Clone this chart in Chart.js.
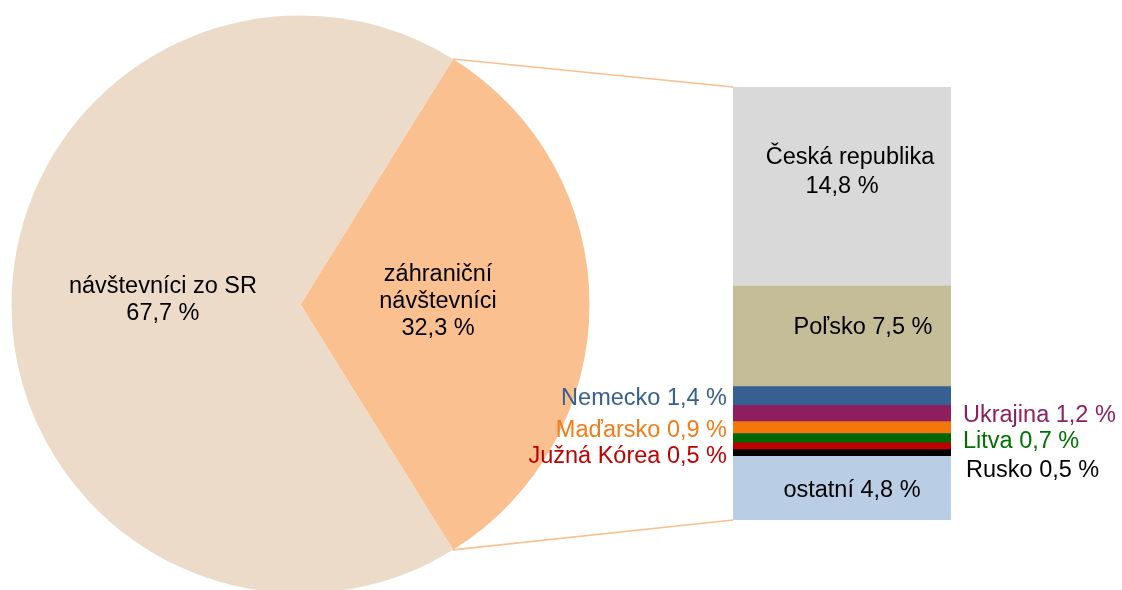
<!DOCTYPE html>
<html>
<head>
<meta charset="utf-8">
<script src="https://cdn.jsdelivr.net/npm/chart.js@4.4.0/dist/chart.umd.min.js"></script>
<style>
    html, body { margin: 0; padding: 0; background: #fff; overflow: hidden; }
    #wrap { position: relative; width: 1122px; height: 590px; overflow: hidden; }
    #pieCanvas, #barCanvas { position: absolute; left: 0; top: 0; }
</style>
</head>
<body>
<div id="wrap">
    <canvas id="pieCanvas" width="600" height="620"></canvas>
    <canvas id="barCanvas" width="1122" height="590"></canvas>
</div>
<script>
// ==========================================
// Data
// ==========================================

const pieCategories = ['záhraniční návštevníci', 'návštevníci zo SR'];
const pieValues = [32.3, 67.7];
const pieColors = ['#FAC090', '#ECDBC9'];

const countries = ['Česká republika', 'Poľsko', 'Nemecko', 'Ukrajina', 'Maďarsko',
    'Litva', 'Južná Kórea', 'Rusko', 'ostatní'];
const countryValues = [14.8, 7.5, 1.4, 1.2, 0.9, 0.7, 0.5, 0.5, 4.8];
const countryColors = ['#D9D9D9', '#C4BD97', '#376092', '#8E1F5F', '#F5760A',
    '#006600', '#C00000', '#000000', '#B9CDE5'];
const countryTextColors = ['#000000', '#000000', '#376092', '#8E1F5F', '#F47B16',
    '#007000', '#C00000', '#000000', '#000000'];

// ==========================================
// Helpers
// ==========================================

const FONT = '23.5px "Liberation Sans", Arial, sans-serif';
const LINE_COLOR = '#FAC090';

const fmt = v => v.toFixed(1).replace('.', ',') + ' %';

// where each bar label sits relative to its segment
const barLabelPlacement = {
    'Česká republika': { align: 'center', dx: [8, 0], dy: -22.5, twoLines: true, lh: 29 },
    'Poľsko':          { align: 'center', dx: 21, dy: -2 },
    'Nemecko':         { align: 'right', dy: 9.5 },
    'Ukrajina':        { align: 'left', dy: 9.5 },
    'Maďarsko':        { align: 'right', dy: 10.5 },
    'Litva':           { align: 'left', dy: 10 },
    'Južná Kórea':     { align: 'right', dy: 17.5 },
    'Rusko':           { align: 'left', dx: 3, dy: 25 },
    'ostatní':         { align: 'center', dx: 10, dy: 9 }
};

// ==========================================
// Pie (left)
// ==========================================

const pieLabelPlugin = {
    id: 'pieLabels',
    afterDatasetsDraw(chart) {
        const ctx = chart.ctx;
        const meta = chart.getDatasetMeta(0);
        ctx.save();
        ctx.font = FONT;
        ctx.fillStyle = '#000';
        ctx.textAlign = 'center';
        ctx.textBaseline = 'alphabetic';
        meta.data.forEach((arc, i) => {
            const mid = (arc.startAngle + arc.endAngle) / 2;
            const r = arc.outerRadius * 0.476;
            const cx = arc.x + Math.cos(mid) * r;
            const cy = arc.y + Math.sin(mid) * r;
            const lines = i === 0
                ? ['záhraniční', 'návštevníci', fmt(pieValues[i])]
                : [pieCategories[i], fmt(pieValues[i])];
            const lh = 27;
            let y = cy - (lines.length - 1) * lh / 2 + (i === 0 ? 4 : 2);
            lines.forEach(t => { ctx.fillText(t, cx, y); y += lh; });
        });
        ctx.restore();
    }
};

const pieChart = new Chart(document.getElementById('pieCanvas'), {
    type: 'pie',
    data: {
        labels: pieCategories,
        datasets: [{ data: pieValues, backgroundColor: pieColors, borderWidth: 0 }]
    },
    options: {
        responsive: false,
        animation: false,
        devicePixelRatio: 1,
        rotation: 90 - pieValues[0] * 3.6 / 2, // foreign slice centred at 3 o'clock
        radius: 289,
        layout: { padding: { left: 11.5, top: 15.4, right: 10.5, bottom: 26.6 } },
        plugins: { legend: { display: false }, tooltip: { enabled: false } }
    },
    plugins: [pieLabelPlugin]
});

// ==========================================
// Stacked bar (right)
// ==========================================

const barExtrasPlugin = {
    id: 'barExtras',
    beforeDatasetsDraw(chart) {
        // connector lines from the foreign slice to the bar
        const arc = pieChart.getDatasetMeta(0).data[0];
        const first = chart.getDatasetMeta(0).data[0];
        const left = first.x - first.width / 2;
        const yTop = chart.scales.y.getPixelForValue(0);
        const yBot = chart.scales.y.getPixelForValue(chart.scales.y.max);
        const R = arc.outerRadius;
        const ctx = chart.ctx;
        ctx.save();
        ctx.strokeStyle = LINE_COLOR;
        ctx.lineWidth = 1.6;
        ctx.beginPath();
        ctx.moveTo(arc.x + Math.cos(arc.startAngle) * R, arc.y + Math.sin(arc.startAngle) * R);
        ctx.lineTo(left, yTop);
        ctx.moveTo(arc.x + Math.cos(arc.endAngle) * R, arc.y + Math.sin(arc.endAngle) * R);
        ctx.lineTo(left, yBot);
        ctx.stroke();
        ctx.restore();
    },
    afterDatasetsDraw(chart) {
        const ctx = chart.ctx;
        ctx.save();
        ctx.font = FONT;
        ctx.textBaseline = 'alphabetic';
        countries.forEach((name, i) => {
            const bar = chart.getDatasetMeta(i).data[0];
            const p = barLabelPlacement[name];
            const mid = (bar.y + bar.base) / 2;
            const left = bar.x - bar.width / 2;
            const right = bar.x + bar.width / 2;
            ctx.fillStyle = countryTextColors[i];
            ctx.textAlign = p.align;
            if (p.twoLines) {
                ctx.fillText(name, bar.x + p.dx[0], mid + p.dy);
                ctx.fillText(fmt(countryValues[i]), bar.x + p.dx[1], mid + p.dy + p.lh);
                return;
            }
            const text = name + ' ' + fmt(countryValues[i]);
            let x;
            if (p.align === 'left') x = right + 12 + (p.dx || 0);
            else if (p.align === 'right') x = left - 6 + (p.dx || 0);
            else x = bar.x + (p.dx || 0);
            ctx.fillText(text, x, mid + p.dy);
        });
        ctx.restore();
    }
};

const total = countryValues.reduce((a, b) => a + b, 0);

const barChart = new Chart(document.getElementById('barCanvas'), {
    type: 'bar',
    data: {
        labels: [''],
        datasets: countries.map((c, i) => ({
            label: c,
            data: [countryValues[i]],
            backgroundColor: countryColors[i],
            borderWidth: 0,
            barPercentage: 1,
            categoryPercentage: 1
        }))
    },
    options: {
        responsive: false,
        animation: false,
        devicePixelRatio: 1,
        layout: { padding: { left: 733, right: 171, top: 87, bottom: 70 } },
        scales: {
            x: { stacked: true, display: false },
            y: { stacked: true, display: false, reverse: true, min: 0, max: total }
        },
        plugins: { legend: { display: false }, tooltip: { enabled: false } }
    },
    plugins: [barExtrasPlugin]
});
</script>
</body>
</html>
